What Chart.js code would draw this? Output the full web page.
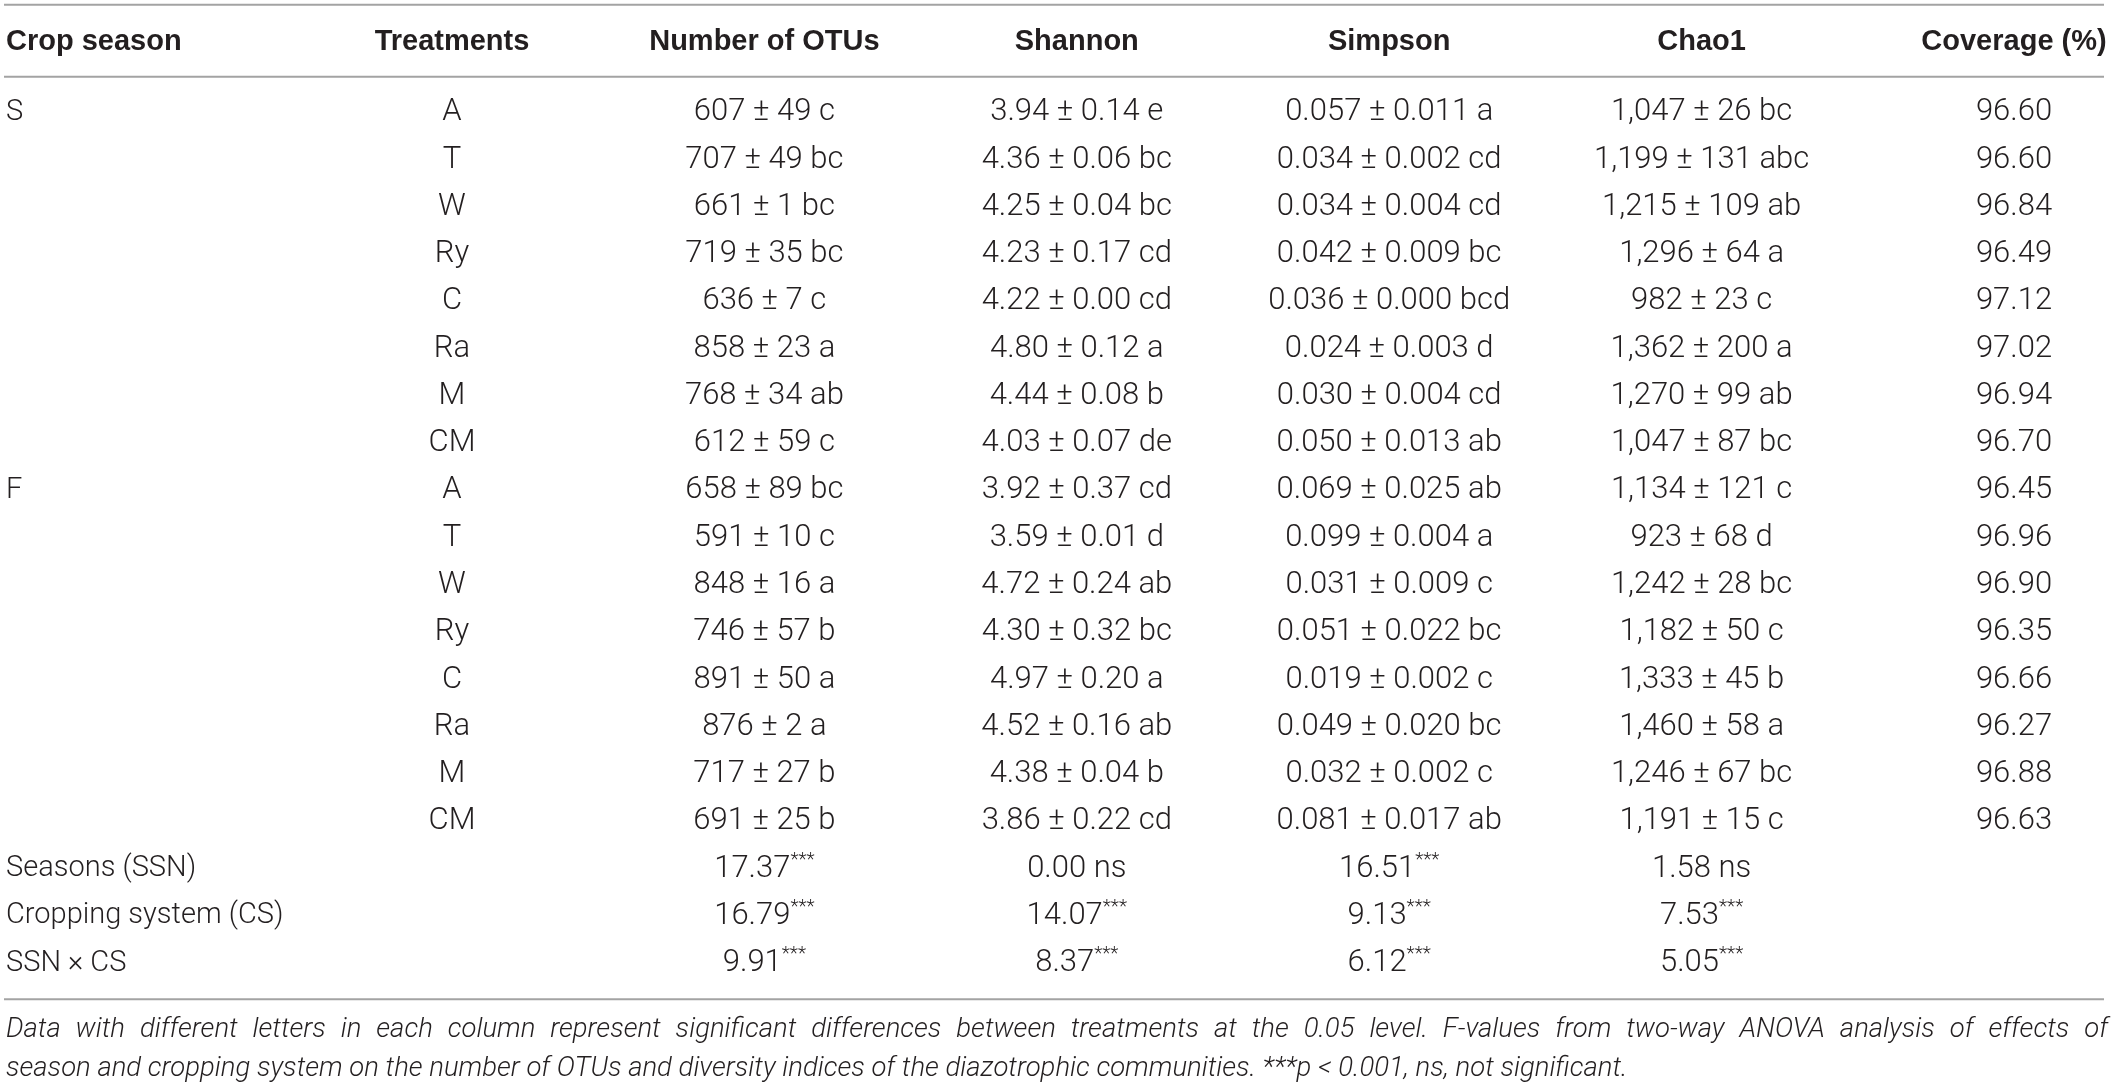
<!doctype html>
<html lang="en">
<head>
<meta charset="utf-8">
<title>Diazotrophic diversity indices</title>
<script src="https://cdn.jsdelivr.net/npm/chart.js@4.4.1/dist/chart.umd.min.js"></script>
<style>
  html, body { margin: 0; padding: 0; background: #fff; }
  #wrap { position: relative; width: 2120px; height: 1086px; }
  #note {
    position: absolute; left: 6px; top: 1008px; width: 2102px;
    font-family: Roboto, "Liberation Sans", sans-serif; font-weight: 300;
    font-style: italic; font-size: 27.5px; line-height: 39px; color: #231f20;
  }
  #note .l1 { text-align: justify; text-align-last: justify; }
</style>
</head>
<body>
<div id="wrap">
  <canvas id="tbl"></canvas>
  <div id="note">
    <div class="l1">Data with different letters in each column represent significant differences between treatments at the 0.05 level. F-values from two-way ANOVA analysis of effects of</div>
    <div>season and cropping system on the number of OTUs and diversity indices of the diazotrophic communities. ***p &lt; 0.001, ns, not significant.</div>
  </div>
</div>
<script>
// column headers
var firstHeader = 'Crop season';
var columns = ['Treatments', 'Number of OTUs', 'Shannon', 'Simpson', 'Chao1', 'Coverage (%)'];

// row labels of the first column
var rowLabels = ['S', '', '', '', '', '', '', '', 'F', '', '', '', '', '', '', '',
                 'Seasons (SSN)', 'Cropping system (CS)', 'SSN \u00d7 CS'];

var treatments = ['A', 'T', 'W', 'Ry', 'C', 'Ra', 'M', 'CM', 'A', 'T', 'W', 'Ry', 'C', 'Ra', 'M', 'CM'];
var otus = ['607 \u00b1 49 c', '707 \u00b1 49 bc', '661 \u00b1 1 bc', '719 \u00b1 35 bc', '636 \u00b1 7 c',
            '858 \u00b1 23 a', '768 \u00b1 34 ab', '612 \u00b1 59 c', '658 \u00b1 89 bc', '591 \u00b1 10 c',
            '848 \u00b1 16 a', '746 \u00b1 57 b', '891 \u00b1 50 a', '876 \u00b1 2 a', '717 \u00b1 27 b', '691 \u00b1 25 b'];
var shannon = ['3.94 \u00b1 0.14 e', '4.36 \u00b1 0.06 bc', '4.25 \u00b1 0.04 bc', '4.23 \u00b1 0.17 cd',
               '4.22 \u00b1 0.00 cd', '4.80 \u00b1 0.12 a', '4.44 \u00b1 0.08 b', '4.03 \u00b1 0.07 de',
               '3.92 \u00b1 0.37 cd', '3.59 \u00b1 0.01 d', '4.72 \u00b1 0.24 ab', '4.30 \u00b1 0.32 bc',
               '4.97 \u00b1 0.20 a', '4.52 \u00b1 0.16 ab', '4.38 \u00b1 0.04 b', '3.86 \u00b1 0.22 cd'];
var simpson = ['0.057 \u00b1 0.011 a', '0.034 \u00b1 0.002 cd', '0.034 \u00b1 0.004 cd', '0.042 \u00b1 0.009 bc',
               '0.036 \u00b1 0.000 bcd', '0.024 \u00b1 0.003 d', '0.030 \u00b1 0.004 cd', '0.050 \u00b1 0.013 ab',
               '0.069 \u00b1 0.025 ab', '0.099 \u00b1 0.004 a', '0.031 \u00b1 0.009 c', '0.051 \u00b1 0.022 bc',
               '0.019 \u00b1 0.002 c', '0.049 \u00b1 0.020 bc', '0.032 \u00b1 0.002 c', '0.081 \u00b1 0.017 ab'];
var chao1 = ['1,047 \u00b1 26 bc', '1,199 \u00b1 131 abc', '1,215 \u00b1 109 ab', '1,296 \u00b1 64 a',
             '982 \u00b1 23 c', '1,362 \u00b1 200 a', '1,270 \u00b1 99 ab', '1,047 \u00b1 87 bc',
             '1,134 \u00b1 121 c', '923 \u00b1 68 d', '1,242 \u00b1 28 bc', '1,182 \u00b1 50 c',
             '1,333 \u00b1 45 b', '1,460 \u00b1 58 a', '1,246 \u00b1 67 bc', '1,191 \u00b1 15 c'];
var coverage = ['96.60', '96.60', '96.84', '96.49', '97.12', '97.02', '96.94', '96.70',
                '96.45', '96.96', '96.90', '96.35', '96.66', '96.27', '96.88', '96.63'];

// two-way ANOVA F-values (OTUs, Shannon, Simpson, Chao1)
var fSeasons = ['17.37***', '0.00 ns', '16.51***', '1.58 ns'];
var fCropping = ['16.79***', '14.07***', '9.13***', '7.53***'];
var fInteraction = ['9.91***', '8.37***', '6.12***', '5.05***'];

var rowKeys = rowLabels.map(function (l, i) { return 'r' + i; });

function columnCells(values, fvals) {
  var all = values.concat(fvals || ['', '', '']);
  return all.map(function (v, i) { return { x: null, y: rowKeys[i], text: v }; });
}

var cols = [
  columnCells(treatments),
  columnCells(otus, [fSeasons[0], fCropping[0], fInteraction[0]]),
  columnCells(shannon, [fSeasons[1], fCropping[1], fInteraction[1]]),
  columnCells(simpson, [fSeasons[2], fCropping[2], fInteraction[2]]),
  columnCells(chao1, [fSeasons[3], fCropping[3], fInteraction[3]]),
  columnCells(coverage)
];
var datasets = cols.map(function (cells, c) {
  cells.forEach(function (d) { d.x = columns[c]; });
  return { label: columns[c], data: cells, pointRadius: 0, pointHoverRadius: 0 };
});

var bodyFont = '300 31px Roboto, "Liberation Sans", sans-serif';
var labelFont = '300 29px Roboto, "Liberation Sans", sans-serif';
var supFont = '300 19px Roboto, "Liberation Sans", sans-serif';
var headFont = 'bold 29px "Liberation Sans", Arial, sans-serif';
var ink = '#231f20';
var rule = '#a3a3a3';

function drawCell(ctx, text, x, y, align, font) {
  var base = text, sup = '';
  if (text.slice(-3) === '***') { base = text.slice(0, -3); sup = '***'; }
  ctx.font = font;
  var wb = ctx.measureText(base).width;
  ctx.font = supFont;
  var ws = sup ? ctx.measureText(sup).width : 0;
  var x0 = align === 'left' ? x : x - (wb + ws) / 2;
  ctx.textAlign = 'left';
  ctx.textBaseline = 'middle';
  ctx.font = font;
  ctx.fillText(base, x0, y);
  if (sup) {
    ctx.font = supFont;
    ctx.fillText(sup, x0 + wb, y - 9);
  }
}

var tablePlugin = {
  id: 'tableText',
  afterDatasetsDraw: function (chart) {
    var ctx = chart.ctx;
    var xs = chart.scales.x, ys = chart.scales.y;
    var first = ys.getPixelForValue(0), last = ys.getPixelForValue(rowKeys.length - 1);
    var headY = first - 71;
    ctx.save();
    ctx.fillStyle = ink;
    // rules
    ctx.strokeStyle = rule;
    ctx.lineWidth = 2;
    [first - 108, first - 36, last + 36].forEach(function (y) {
      ctx.beginPath(); ctx.moveTo(4, y); ctx.lineTo(2104, y); ctx.stroke();
    });
    // header row
    ctx.font = headFont;
    ctx.textBaseline = 'middle';
    ctx.textAlign = 'left';
    ctx.fillText(firstHeader, 6, headY);
    ctx.textAlign = 'center';
    columns.forEach(function (c, i) { ctx.fillText(c, xs.getPixelForValue(i), headY); });
    // first column
    rowLabels.forEach(function (l, i) {
      if (l) drawCell(ctx, l, 6, ys.getPixelForValue(i), 'left', labelFont);
    });
    // cells
    chart.data.datasets.forEach(function (ds, d) {
      chart.getDatasetMeta(d).data.forEach(function (el, i) {
        var t = ds.data[i].text;
        if (t) drawCell(ctx, t, el.x, el.y, 'center', bodyFont);
      });
    });
    ctx.restore();
  }
};

new Chart(document.getElementById('tbl'), {
  type: 'scatter',
  data: { datasets: datasets },
  options: {
    responsive: true,
    maintainAspectRatio: false,
    animation: false,
    events: [],
    layout: { padding: { left: 452, right: 106, top: 89, bottom: 99 } },
    plugins: { legend: { display: false }, tooltip: { enabled: false } },
    scales: {
      x: { type: 'category', labels: columns, offset: false, display: false },
      y: { type: 'category', labels: rowKeys, offset: true, display: false }
    }
  },
  plugins: [tablePlugin]
});
</script>
</body>
</html>
